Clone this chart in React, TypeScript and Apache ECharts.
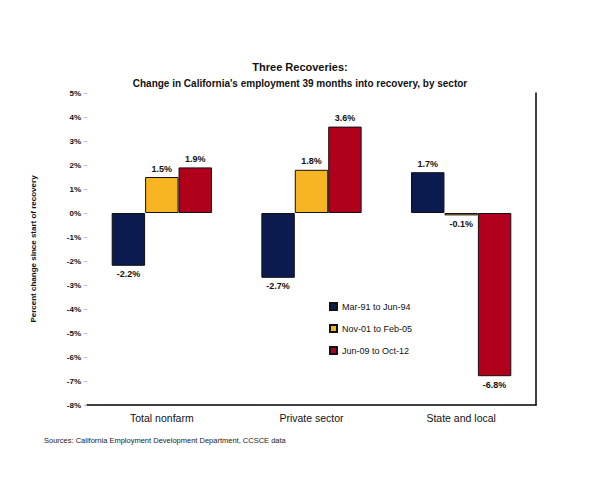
import React, { useEffect, useRef } from "react";
import * as echarts from "echarts";

const categories = ["Total nonfarm", "Private sector", "State and local"];
const seriesNames = ["Mar-91 to Jun-94", "Nov-01 to Feb-05", "Jun-09 to Oct-12"];
const recovery1 = [-2.2, -2.7, 1.7];
const recovery2 = [1.5, 1.8, -0.1];
const recovery3 = [1.9, 3.6, -6.8];
const colors = ["#0b1a4f", "#f7b423", "#b0001c"];
const yMin = -8;
const yMax = 5;
const yStep = 1;

const FONT = "'Liberation Sans', Arial, sans-serif";

export default function App() {
  const ref = useRef<HTMLDivElement>(null);
  useEffect(() => {
    document.body.style.margin = "0";
    const chart = echarts.init(ref.current!, null, { renderer: "svg" });
    const allData = [recovery1, recovery2, recovery3];
    chart.setOption({
      animation: false,
      backgroundColor: "#ffffff",
      textStyle: { fontFamily: FONT },
      title: {
        text: "Three Recoveries:",
        subtext: "Change in California's employment 39 months into recovery, by sector",
        left: "center",
        top: 56,
        itemGap: 6,
        textStyle: { fontSize: 11, fontWeight: "bold", color: "#111", fontFamily: FONT },
        subtextStyle: { fontSize: 10, fontWeight: "bold", color: "#111", fontFamily: FONT },
      },
      legend: {
        orient: "vertical",
        left: 324,
        top: 297,
        itemWidth: 7,
        itemHeight: 7,
        itemGap: 13,
        icon: "rect",
        data: seriesNames,
        textStyle: { fontSize: 9, color: "#111", fontFamily: FONT },
      },
      graphic: [
        {
          type: "text",
          left: 44,
          top: 436,
          style: {
            text: "Sources: California Employment Development Department, CCSCE data",
            fontSize: 7.5,
            fill: "#222",
            fontFamily: FONT,
          },
        },
      ],
      grid: { left: 87, right: 64, top: 93, bottom: 96 },
      xAxis: {
        type: "category",
        data: categories,
        axisLine: { show: true, onZero: false, lineStyle: { color: "#000", width: 1.5 } },
        axisTick: { show: false },
        axisLabel: { fontSize: 10.5, color: "#111", margin: 7, fontFamily: FONT },
      },
      yAxis: [
        {
          type: "value",
          min: yMin,
          max: yMax,
          interval: yStep,
          name: "Percent change since start of recovery",
          nameLocation: "middle",
          nameGap: 50,
          nameRotate: 90,
          nameTextStyle: { fontSize: 8, fontWeight: "bold", color: "#111", fontFamily: FONT },
          axisLine: { show: false },
          axisTick: { show: true, length: 3, lineStyle: { color: "#bbb" } },
          splitLine: { show: false },
          axisLabel: {
            fontSize: 8,
            fontWeight: "bold",
            color: "#111",
            margin: 6,
            fontFamily: FONT,
            formatter: (v: number) => `${v}%`,
          },
        },
        {
          type: "value",
          position: "right",
          min: yMin,
          max: yMax,
          interval: yStep,
          axisLine: { show: true, lineStyle: { color: "#000", width: 1.5 } },
          axisTick: { show: false },
          axisLabel: { show: false },
          splitLine: { show: false },
        },
      ],
      series: allData.map((d, i) => ({
        name: seriesNames[i],
        type: "bar",
        yAxisIndex: 0,
        barGap: "0%",
        barCategoryGap: "33%",
        itemStyle: { color: colors[i], borderColor: "#111", borderWidth: 1 },
        data: d.map((v) => ({
          value: v,
          label: {
            show: true,
            position: v >= 0 ? "top" : "bottom",
            distance: 4,
            fontSize: 9,
            fontWeight: "bold",
            color: "#111",
            fontFamily: FONT,
            formatter: `${v.toFixed(1)}%`,
          },
        })),
      })),
    });
    return () => chart.dispose();
  }, []);
  return <div ref={ref} style={{ width: 600, height: 501 }} />;
}
